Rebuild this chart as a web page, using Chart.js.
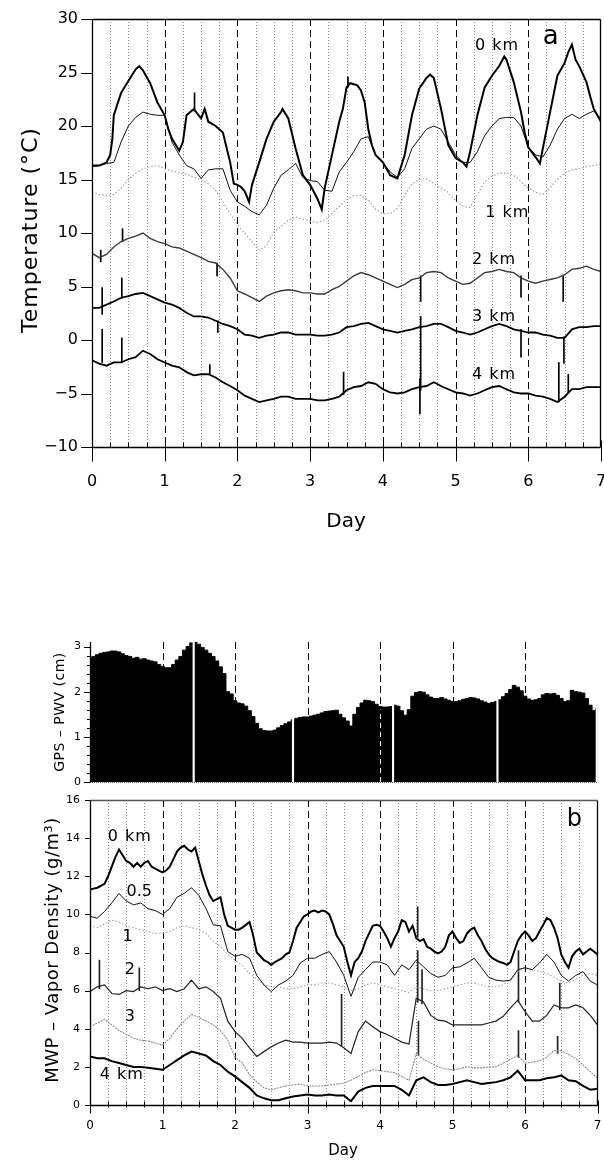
<!DOCTYPE html>
<html lang="en">
<head>
<meta charset="UTF-8">
<title>Temperature, GPS PWV and vapor density</title>
<script src="https://cdn.jsdelivr.net/npm/chart.js"></script>
<style>
  html, body { margin: 0; padding: 0; background: #fff; overflow: hidden; }
  canvas { position: absolute; left: 0; }
  #tempChart { top: 0; }
  #gpsChart { top: 620px; }
  #vapChart { top: 795px; }
</style>
</head>
<body>
<canvas id="tempChart" width="604" height="540"></canvas>
<canvas id="gpsChart" width="604" height="175"></canvas>
<canvas id="vapChart" width="604" height="365"></canvas>

<script>
// day grids (0.1 and 0.05 day sampling)
var days10 = [];
for (var i = 0; i <= 70; i++) days10.push(i / 10);
var days20 = [];
for (var j = 0; j <= 140; j++) days20.push(j / 20);

// tick labels
var dayTicks = [0, 1, 2, 3, 4, 5, 6, 7];
var tempTicks = [-10, -5, 0, 5, 10, 15, 20, 25, 30];
var gpsTicks = [0, 1, 2, 3];
var vapTicks = [0, 2, 4, 6, 8, 10, 12, 14, 16];

// ---- panel a: temperature (deg C) ----
var temp0km = [[0,16.3],[0.1,16.3],[0.2,16.6],[0.25,17.3],[0.28,18.8],[0.3,21.0],[0.4,23.1],[0.5,24.2],[0.6,25.3],[0.65,25.6],
  [0.7,25.2],[0.8,24.0],[0.9,22.2],[1.0,21.0],[1.05,19.7],[1.1,18.8],[1.2,17.7],[1.25,18.5],[1.3,21.0],[1.4,21.6],
  [1.5,20.7],[1.55,21.6],[1.6,20.4],[1.7,20.0],[1.8,19.4],[1.9,16.6],[1.95,14.6],[2.0,14.5],[2.05,14.3],[2.1,13.9],
  [2.16,12.9],[2.2,14.5],[2.3,16.6],[2.4,18.8],[2.5,20.4],[2.6,21.3],[2.62,21.6],[2.7,20.7],[2.8,17.9],[2.9,15.4],
  [3.0,14.5],[3.1,13.2],[3.16,12.2],[3.2,14.2],[3.3,17.3],[3.4,20.4],[3.45,21.6],[3.5,23.6],[3.55,24.0],[3.6,23.9],
  [3.65,23.8],[3.7,23.3],[3.75,22.2],[3.8,19.7],[3.85,18.2],[3.9,17.3],[4.0,16.6],[4.1,15.4],[4.2,15.1],[4.3,17.3],
  [4.4,21.0],[4.5,23.5],[4.6,24.5],[4.65,24.8],[4.7,24.5],[4.8,21.6],[4.9,18.2],[5.0,17.0],[5.1,16.6],[5.15,16.2],
  [5.2,17.6],[5.3,21.0],[5.4,23.6],[5.5,24.7],[5.6,25.6],[5.67,26.5],[5.7,26.2],[5.8,24.1],[5.9,21.3],[5.95,19.4],
  [6.0,18.0],[6.1,17.1],[6.16,16.5],[6.2,17.9],[6.3,21.3],[6.4,24.7],[6.5,25.9],[6.55,26.9],[6.6,27.6],[6.65,26.2],
  [6.7,25.6],[6.8,24.1],[6.85,22.8],[6.9,21.6],[6.95,21.0],[7.0,20.4]];
var tempThin = [16.2,16.3,16.5,16.6,18.5,20.0,20.8,21.3,21.1,21.0,
  21.0,18.5,17.3,16.3,16.0,15.1,15.9,16.0,16.0,14.0,
  12.9,12.5,12.0,11.7,12.6,14.2,15.4,15.9,16.5,15.2,
  14.9,14.8,14.0,13.9,15.7,16.6,17.6,18.8,19.0,17.3,
  16.6,15.7,15.2,16.0,17.9,18.8,19.7,20.0,19.7,18.5,
  17.3,16.6,16.6,17.6,19.1,20.0,20.7,20.8,20.8,20.0,
  18.0,17.3,17.1,18.2,19.7,20.7,21.1,20.7,21.1,21.4,
  20.7];
var temp1km = [13.8,13.6,13.5,13.6,14.2,15.0,15.6,16.0,16.2,16.3,
  16.0,15.8,15.6,15.5,15.2,15.0,14.6,14.0,12.9,11.8,
  10.8,10.0,9.2,8.4,8.8,10.1,10.6,11.2,11.5,11.3,
  11.1,11.0,11.2,11.8,12.5,13.1,13.5,13.5,13.1,12.2,
  11.8,11.8,12.3,13.5,14.6,15.0,15.1,14.6,14.2,13.8,
  13.0,12.5,12.4,13.6,14.8,15.3,15.6,15.6,15.4,14.8,
  14.2,13.8,13.6,14.2,15.0,15.6,15.9,16.0,16.2,16.3,
  16.4];
var temp2km = [8.1,7.7,8.0,8.7,9.2,9.5,9.7,10.0,9.5,9.2,
  9.0,8.7,8.6,8.3,8.0,7.7,7.35,7.2,6.6,5.8,
  4.6,4.3,3.95,3.6,4.1,4.4,4.6,4.7,4.6,4.4,
  4.4,4.3,4.3,4.7,5.0,5.5,6.0,6.3,6.1,5.8,
  5.5,5.2,4.9,5.2,5.65,5.8,6.3,6.4,6.3,5.8,
  5.5,5.2,5.3,5.8,6.3,6.4,6.6,6.4,6.3,5.8,
  5.5,5.3,5.5,5.65,5.8,6.1,6.6,6.7,6.9,6.6,
  6.4];
var temp3km = [3.0,3.0,3.3,3.6,3.95,4.1,4.3,4.4,4.1,3.8,
  3.5,3.3,3.0,2.55,2.2,2.2,2.1,1.8,1.5,1.3,
  1.0,0.5,0.4,0.2,0.4,0.5,0.7,0.7,0.5,0.5,
  0.5,0.4,0.4,0.5,0.7,1.2,1.3,1.5,1.6,1.3,
  1.0,0.85,0.7,0.85,1.0,1.2,1.3,1.5,1.5,1.2,
  0.85,0.7,0.5,0.7,1.0,1.3,1.5,1.3,1.0,0.85,
  0.7,0.7,0.5,0.4,0.2,0.2,1.0,1.2,1.2,1.3,
  1.3];
var temp4km = [-1.9,-2.2,-2.4,-2.1,-2.1,-1.8,-1.6,-1.0,-1.3,-1.8,
  -2.1,-2.4,-2.55,-3.0,-3.3,-3.2,-3.2,-3.5,-3.95,-4.3,
  -4.7,-5.2,-5.5,-5.8,-5.65,-5.5,-5.3,-5.3,-5.5,-5.5,
  -5.5,-5.65,-5.65,-5.5,-5.3,-4.7,-4.4,-4.3,-3.95,-4.1,
  -4.6,-4.9,-5.0,-4.9,-4.6,-4.4,-4.3,-3.95,-4.3,-4.6,
  -4.9,-5.0,-5.2,-5.0,-4.7,-4.4,-4.3,-4.6,-4.9,-5.0,
  -5.0,-5.2,-5.3,-5.5,-5.8,-5.3,-4.6,-4.6,-4.4,-4.4,
  -4.4];
// short spikes: [day, from, to]
var temp0kmSpikes = [[1.41, 21.4, 23.1], [3.52, 23.6, 24.6]];
var temp2kmSpikes = [[0.12, 7.3, 8.4], [0.42, 9.2, 10.4], [1.72, 6.0, 7.2], [4.52, 3.6, 6.0], [5.9, 4.0, 6.0], [6.48, 3.6, 6.0]];
var temp3kmSpikes = [[0.14, 2.4, 4.9], [0.41, 3.9, 5.8], [1.73, 0.7, 1.8], [4.52, -4.7, 2.2], [5.9, -1.6, 1.0], [6.49, -2.2, 0.3]];
var temp4kmSpikes = [[0.14, -2.1, 1.0], [0.41, -2.1, 0.2], [1.62, -3.2, -2.3], [3.46, -5.1, -3.0], [4.51, -6.9, -3.6], [6.42, -5.8, -2.1], [6.55, -4.9, -3.2]];

// ---- middle panel: GPS precipitable water vapour (cm), 0.05 day ----
var gpsPwv = [2.75,2.78,2.82,2.85,2.87,2.88,2.90,2.90,2.88,2.84,
  2.80,2.78,2.74,2.76,2.72,2.73,2.70,2.68,2.66,2.60,
  2.56,2.53,2.53,2.60,2.70,2.78,2.92,3.00,3.08,3.12,
  3.05,2.98,2.92,2.85,2.78,2.68,2.55,2.40,2.00,1.95,
  1.80,1.75,1.73,1.68,1.58,1.45,1.30,1.18,1.14,1.13,
  1.13,1.15,1.20,1.25,1.29,1.33,1.38,1.41,1.43,1.44,
  1.44,1.46,1.48,1.50,1.53,1.56,1.57,1.58,1.59,1.50,
  1.42,1.35,1.24,1.50,1.65,1.75,1.81,1.80,1.78,1.72,
  1.67,1.66,1.66,1.67,1.70,1.68,1.58,1.48,1.60,1.90,
  1.98,2.00,1.99,1.93,1.88,1.85,1.85,1.87,1.84,1.81,
  1.78,1.78,1.80,1.83,1.85,1.87,1.86,1.84,1.80,1.77,
  1.74,1.76,1.78,1.82,1.89,1.96,2.05,2.14,2.10,2.02,
  1.90,1.84,1.81,1.82,1.85,1.93,1.96,1.95,1.96,1.92,
  1.85,1.78,1.80,2.03,2.00,1.99,1.97,1.85,1.70,1.58,
  1.62];
var gpsGapDays = [1.43, 2.8, 4.18, 5.62, 6.99];
var gpsBrokenDay = 4;   // intermittent record, shown as a white dashed gap

// ---- panel b: MWP vapor density (g/m3) ----
var vap0km = [11.3,11.35,11.4,11.5,11.6,12.0,12.5,13.0,13.4,13.1,
  12.8,12.7,12.5,12.7,12.5,12.7,12.8,12.5,12.4,12.3,
  12.2,12.3,12.5,12.9,13.3,13.5,13.6,13.4,13.3,13.5,
  12.8,12.1,11.5,11.0,10.7,10.8,10.9,10.0,9.4,9.3,
  9.2,9.2,9.3,9.45,9.6,8.9,8.0,7.8,7.6,7.5,
  7.35,7.5,7.6,7.7,7.9,8.0,8.6,9.3,9.6,9.9,
  10.0,10.15,10.2,10.1,10.2,10.15,10.0,9.5,8.9,8.6,
  8.3,7.5,6.8,7.5,7.7,8.05,8.6,9.0,9.4,9.45,
  9.4,9.1,8.75,8.3,8.75,9.1,9.7,9.6,9.1,9.4,
  8.75,8.6,8.7,8.3,8.2,8.05,7.95,8.05,8.3,8.9,
  9.1,8.75,8.5,8.6,9.0,9.2,9.3,8.9,8.6,8.2,
  7.9,7.7,7.6,7.5,7.45,7.35,7.5,8.05,8.6,8.9,
  9.1,8.9,8.6,8.75,9.1,9.45,9.8,9.7,9.3,8.75,
  7.9,7.5,7.2,7.8,8.05,8.2,7.9,8.05,8.2,8.05,
  7.9];
var vap05km = [9.9,9.8,10.15,10.6,11.1,10.7,10.5,10.6,10.3,10.2,
  10.0,10.3,10.9,11.1,11.4,11.0,10.3,9.45,9.4,8.05,
  7.8,7.9,7.7,6.8,6.3,5.95,6.3,6.5,6.8,7.45,
  7.7,7.7,7.9,8.05,7.5,6.8,5.7,6.7,7.1,7.5,
  7.5,7.35,6.8,7.35,7.1,7.6,7.25,6.9,6.7,6.8,
  7.2,7.25,7.45,7.7,7.2,6.7,6.55,6.5,6.55,7.1,
  7.2,7.1,7.45,7.9,7.5,6.8,6.5,6.8,7.0,6.5,
  6.3];
var vap1km = [9.4,9.3,9.5,9.7,9.6,9.4,9.3,9.2,9.1,9.0,
  9.0,9.1,9.3,9.4,9.3,9.2,9.0,8.6,8.3,7.9,
  7.6,7.3,6.9,6.6,6.3,6.2,6.2,6.1,6.1,6.2,
  6.3,6.3,6.4,6.4,6.3,6.2,6.0,6.1,6.3,6.4,
  6.3,6.2,6.1,6.0,5.9,6.2,6.1,6.0,6.0,6.1,
  6.2,6.3,6.4,6.4,6.3,6.2,6.2,6.3,6.6,7.0,
  7.2,7.1,7.0,6.9,6.7,6.5,6.4,6.6,6.8,6.9,
  6.8];
var vap2km = [5.95,6.2,6.3,5.85,5.8,6.0,5.95,6.2,6.1,6.2,
  6.0,6.1,5.95,6.1,6.55,6.1,6.2,5.95,5.6,4.4,
  3.85,3.5,3.0,2.55,2.8,3.05,3.25,3.4,3.3,3.3,
  3.25,3.25,3.25,3.3,3.25,3.0,2.7,3.85,4.4,4.1,
  3.85,3.7,3.5,3.3,3.2,5.6,5.4,4.7,4.45,4.4,
  4.2,4.2,4.2,4.2,4.2,4.3,4.4,4.65,5.1,5.5,
  4.9,4.4,4.4,4.7,5.25,5.1,5.1,5.25,5.1,4.7,
  4.2];
var vap3km = [4.1,4.3,4.5,4.2,3.9,3.7,3.5,3.4,3.35,3.25,
  3.15,3.5,4.0,4.4,4.75,4.6,4.4,4.2,3.9,3.4,
  2.5,2.2,1.6,1.2,0.9,0.8,0.9,1.0,1.05,1.1,
  1.0,1.0,1.0,1.05,1.1,1.15,1.3,1.5,1.7,1.85,
  1.8,1.75,1.7,1.5,1.3,2.7,2.4,2.2,2.0,1.9,
  1.85,1.9,2.0,1.95,1.95,2.0,2.0,2.2,2.4,2.6,
  2.2,2.25,2.3,2.5,2.85,2.85,2.65,2.45,2.1,1.75,
  1.4];
var vap4km = [2.55,2.45,2.45,2.3,2.2,2.1,2.0,2.0,1.95,1.9,
  1.85,2.1,2.35,2.6,2.8,2.7,2.6,2.3,2.1,1.75,
  1.5,1.2,0.9,0.5,0.35,0.25,0.25,0.35,0.45,0.5,
  0.55,0.5,0.5,0.55,0.5,0.5,0.2,0.7,0.9,1.0,
  1.0,1.0,1.0,0.8,0.5,1.3,1.45,1.2,1.05,1.05,
  1.1,1.2,1.3,1.2,1.1,1.15,1.2,1.3,1.45,1.8,
  1.3,1.3,1.3,1.4,1.45,1.55,1.3,1.25,1.0,0.8,
  0.85];
var vap0kmSpikes = [[4.52, 8.8, 10.4]];
var vap2kmSpikes = [[0.13, 6.1, 7.6], [0.68, 6.0, 7.2], [3.47, 3.1, 5.8], [4.52, 5.4, 8.1], [4.58, 5.3, 7.1], [5.91, 5.4, 8.1], [6.48, 5.0, 6.4]];
var vap3kmSpikes = [[4.53, 2.6, 4.4], [5.91, 2.5, 3.9], [6.45, 2.7, 3.6]];

Chart.defaults.font.family = "'DejaVu Sans', sans-serif";
Chart.defaults.color = '#000';

function onGrid(days, vals) {
  return vals.map(function (v, i) { return { x: days[i], y: v }; });
}
function fromPairs(pairs) {
  return pairs.map(function (p) { return { x: p[0], y: p[1] }; });
}
function spikeBars(list) {
  return list.map(function (s) { return { x: s[0], y: [s[1], s[2]] }; });
}
function minusSign(v) {
  return String(v).replace('-', '\u2212');
}
function seg(ctx, x1, y1, x2, y2) {
  ctx.beginPath(); ctx.moveTo(x1, y1); ctx.lineTo(x2, y2); ctx.stroke();
}

// draws the old-style grid, frame, ticks, tick labels and in-plot text
function oldAxes(cfg) {
  return {
    id: 'oldAxes',
    beforeDatasetsDraw: function (chart) {
      var ctx = chart.ctx, a = chart.chartArea, xs = chart.scales.x;
      ctx.save();
      ctx.lineWidth = 1;
      if (cfg.quarterLines) {
        ctx.strokeStyle = '#8a8a8a';
        ctx.setLineDash([1, 2]);
        for (var k = 1; k < 28; k++) {
          if (k % 4 === 0) continue;
          var px = Math.round(xs.getPixelForValue(k / 4)) + 0.5;
          seg(ctx, px, a.top, px, a.bottom);
        }
      }
      ctx.strokeStyle = '#000';
      ctx.setLineDash([7, 4]);
      for (var d = 1; d < 7; d++) {
        var p = Math.round(xs.getPixelForValue(d)) + 0.5;
        seg(ctx, p, a.top, p, a.bottom);
      }
      if (cfg.baseDotted) {
        ctx.strokeStyle = '#555';
        ctx.setLineDash([1, 1]);
        seg(ctx, a.left, a.bottom + 0.5, a.right, a.bottom + 0.5);
      }
      ctx.restore();
    },
    afterDatasetsDraw: function (chart) {
      var ctx = chart.ctx, a = chart.chartArea, xs = chart.scales.x, ys = chart.scales.y;
      ctx.save();
      if (cfg.whiteDash) {
        var w = cfg.whiteDash;
        var wx = Math.round(xs.getPixelForValue(w.day)) + 0.5;
        ctx.strokeStyle = '#fff';
        ctx.lineWidth = 1;
        ctx.setLineDash([5, 4]);
        seg(ctx, wx, ys.getPixelForValue(0), wx, ys.getPixelForValue(w.top) + 3);
      }
      ctx.setLineDash([]);
      ctx.strokeStyle = '#000';
      ctx.lineWidth = 1.3;
      var L = Math.round(a.left) + 0.5, R = Math.round(a.right) - 0.5;
      var T = Math.round(a.top) + 0.5, B = Math.round(a.bottom) + 0.5;
      seg(ctx, L, a.top, L, B);
      if (cfg.frame) {
        seg(ctx, L, B, R, B);
        seg(ctx, R, T, R, B);
        ctx.strokeStyle = cfg.topColor || '#000';
        seg(ctx, L, T, R, T);
        ctx.strokeStyle = '#000';
      }
      ctx.lineWidth = 1;
      // y ticks
      var yt = cfg.yTicks;
      yt.values.forEach(function (v) {
        var py = Math.round(ys.getPixelForValue(v)) + 0.5;
        seg(ctx, a.left - yt.len, py, a.left, py);
      });
      if (yt.minor) {
        for (var m = 0; m * yt.minor <= yt.values[yt.values.length - 1] + 1e-9; m++) {
          var pm = Math.round(ys.getPixelForValue(m * yt.minor)) + 0.5;
          seg(ctx, a.left - yt.minorLen, pm, a.left, pm);
        }
      }
      // x ticks
      if (cfg.xTicks) {
        var xt = cfg.xTicks;
        for (var q = 0; q <= 28; q++) {
          var px = Math.round(xs.getPixelForValue(q / 4)) + 0.5;
          if (q % 4 === 0) seg(ctx, px, B - xt.up, px, B + xt.down);
          else seg(ctx, px, B - xt.minorUp, px, B + xt.minorDown);
        }
      }
      ctx.fillStyle = '#000';
      ctx.textBaseline = 'middle';
      // tick labels
      ctx.font = yt.font;
      ctx.textAlign = 'right';
      yt.values.forEach(function (v) {
        ctx.fillText(minusSign(v), a.left - yt.gap, ys.getPixelForValue(v));
      });
      if (cfg.xTicks) {
        ctx.font = cfg.xTicks.font;
        ctx.textAlign = 'center';
        cfg.xTicks.values.forEach(function (d) {
          ctx.fillText(String(d), xs.getPixelForValue(d), a.bottom + cfg.xTicks.labelOffset);
        });
      }
      // in-plot labels
      ctx.textAlign = 'center';
      (cfg.notes || []).forEach(function (n) {
        ctx.font = n.font;
        ctx.letterSpacing = n.spacing || '0px';
        ctx.fillText(n.text, xs.getPixelForValue(n.day), ys.getPixelForValue(n.val));
      });
      // axis titles
      (cfg.titles || []).forEach(function (t) {
        ctx.save();
        ctx.font = t.font;
        ctx.letterSpacing = t.spacing || '0px';
        ctx.translate(t.x, t.y);
        if (t.rotate) ctx.rotate(-Math.PI / 2);
        ctx.fillText(t.text, 0, 0);
        ctx.restore();
      });
      ctx.restore();
    }
  };
}

var noGrid = { display: false, drawTicks: false };
var noBorder = { display: false };
var noTicks = { display: false };

function baseOptions(pad, xHeight, yWidth, yMin, yMax) {
  return {
    responsive: false,
    animation: false,
    layout: { padding: pad },
    elements: { point: { radius: 0 }, line: { tension: 0 } },
    plugins: { legend: { display: false }, tooltip: { enabled: false } },
    scales: {
      x: {
        type: 'linear', min: 0, max: 7, offset: false,
        grid: noGrid, border: noBorder, ticks: noTicks,
        afterFit: function (s) { s.height = xHeight; }
      },
      y: {
        type: 'linear', min: yMin, max: yMax,
        grid: noGrid, border: noBorder, ticks: noTicks,
        afterFit: function (s) { s.width = yWidth; }
      }
    }
  };
}

// ---------- panel a ----------
new Chart(document.getElementById('tempChart'), {
  type: 'line',
  data: {
    datasets: [
      { label: '0 km', data: fromPairs(temp0km), borderColor: '#000', borderWidth: 2 },
      { label: '0 km (radiometer)', data: onGrid(days10, tempThin), borderColor: '#111', borderWidth: 1 },
      { label: '1 km', data: onGrid(days10, temp1km), borderColor: '#9a9a9a', borderWidth: 1.1, borderDash: [1.5, 2] },
      { label: '2 km', data: onGrid(days10, temp2km), borderColor: '#3a3a3a', borderWidth: 1.4 },
      { label: '3 km', data: onGrid(days10, temp3km), borderColor: '#000', borderWidth: 1.8 },
      { label: '4 km', data: onGrid(days10, temp4km), borderColor: '#000', borderWidth: 1.8 },
      { type: 'bar', label: 'spikes', grouped: false, barThickness: 1, backgroundColor: '#000',
        data: spikeBars(temp0kmSpikes.concat(temp2kmSpikes, temp3kmSpikes, temp4kmSpikes)) }
    ]
  },
  options: baseOptions({ top: 19, right: 3, left: 0, bottom: 0 }, 93, 92, -10, 30),
  plugins: [oldAxes({
    quarterLines: true, frame: true,
    yTicks: { values: tempTicks, len: 11, gap: 14, font: '16px "DejaVu Sans"' },
    xTicks: { values: dayTicks, up: 7, down: 14, minorUp: 5, minorDown: 0, labelOffset: 35, font: '16px "DejaVu Sans"' },
    notes: [
      { text: '0 km', day: 5.57, val: 27.5, font: '16px "DejaVu Sans"', spacing: '1px' },
      { text: 'a', day: 6.31, val: 28.3, font: '26px "DejaVu Sans"' },
      { text: '1 km', day: 5.71, val: 11.9, font: '16px "DejaVu Sans"', spacing: '1px' },
      { text: '2 km', day: 5.53, val: 7.5, font: '16px "DejaVu Sans"', spacing: '1px' },
      { text: '3 km', day: 5.53, val: 2.15, font: '16px "DejaVu Sans"', spacing: '1px' },
      { text: '4 km', day: 5.53, val: -3.3, font: '16px "DejaVu Sans"', spacing: '1px' }
    ],
    titles: [
      { text: 'Temperature (°C)', x: 31, y: 230, rotate: true, font: '22px "DejaVu Sans"', spacing: '1px' },
      { text: 'Day', x: 346, y: 522, font: '20px "DejaVu Sans"' }
    ]
  })]
});

// ---------- GPS PWV ----------
new Chart(document.getElementById('gpsChart'), {
  type: 'line',
  data: {
    datasets: [
      { type: 'bar', label: 'gaps', order: 0, grouped: false, barThickness: 1.5, backgroundColor: '#fff',
        data: gpsGapDays.map(function (g) { return { x: g, y: [0, 3.1] }; }) },
      { label: 'GPS PWV', order: 1, data: onGrid(days20, gpsPwv), borderColor: '#000', borderWidth: 1,
        backgroundColor: '#000', fill: 'origin', stepped: 'middle' }
    ]
  },
  options: baseOptions({ top: 22, right: 6.5, left: 0, bottom: 0 }, 13, 90, 0, 3.1),
  plugins: [oldAxes({
    quarterLines: false, frame: false, baseDotted: true,
    whiteDash: { day: gpsBrokenDay, top: gpsPwv[days20.indexOf(gpsBrokenDay)] },
    yTicks: { values: gpsTicks, len: 6, minor: 0.2, minorLen: 3, gap: 9, font: '11px "DejaVu Sans"' },
    titles: [
      { text: 'GPS \u2013 PWV (cm)', x: 60, y: 92, rotate: true, font: '14px "DejaVu Sans"', spacing: '0.5px' }
    ]
  })]
});

// ---------- panel b ----------
new Chart(document.getElementById('vapChart'), {
  type: 'line',
  data: {
    datasets: [
      { label: '0 km', data: onGrid(days20, vap0km), borderColor: '#000', borderWidth: 2 },
      { label: '0.5 km', data: onGrid(days10, vap05km), borderColor: '#111', borderWidth: 1 },
      { label: '1 km', data: onGrid(days10, vap1km), borderColor: '#a0a0a0', borderWidth: 1.1, borderDash: [1.5, 2] },
      { label: '2 km', data: onGrid(days10, vap2km), borderColor: '#222', borderWidth: 1.2 },
      { label: '3 km', data: onGrid(days10, vap3km), borderColor: '#8a8a8a', borderWidth: 1.1, borderDash: [2, 1] },
      { label: '4 km', data: onGrid(days10, vap4km), borderColor: '#000', borderWidth: 2 },
      { type: 'bar', label: 'spikes', grouped: false, barThickness: 1, backgroundColor: '#222',
        data: spikeBars(vap0kmSpikes.concat(vap2kmSpikes, vap3kmSpikes)) }
    ]
  },
  options: baseOptions({ top: 5, right: 6.5, left: 0, bottom: 0 }, 55, 90, 0, 16),
  plugins: [oldAxes({
    quarterLines: true, frame: true, topColor: '#555',
    yTicks: { values: vapTicks, len: 5, gap: 10, font: '11px "DejaVu Sans"' },
    xTicks: { values: dayTicks, up: 5, down: 8, minorUp: 4, minorDown: 2, labelOffset: 21, font: '12px "DejaVu Sans"' },
    notes: [
      { text: '0 km', day: 0.55, val: 14.07, font: '16px "DejaVu Sans"', spacing: '1px' },
      { text: '0.5', day: 0.68, val: 11.18, font: '16px "DejaVu Sans"' },
      { text: '1', day: 0.52, val: 8.82, font: '16px "DejaVu Sans"' },
      { text: '2', day: 0.55, val: 7.09, font: '16px "DejaVu Sans"' },
      { text: '3', day: 0.55, val: 4.62, font: '16px "DejaVu Sans"' },
      { text: '4 km', day: 0.44, val: 1.57, font: '16px "DejaVu Sans"', spacing: '1px' },
      { text: 'b', day: 6.68, val: 14.96, font: '24px "DejaVu Sans"' }
    ],
    titles: [
      { text: 'MWP \u2013 Vapor Density (g/m\u00b3)', x: 53, y: 155, rotate: true, font: '18px "DejaVu Sans"', spacing: '0.5px' },
      { text: 'Day', x: 343, y: 356, font: '15px "DejaVu Sans"' }
    ]
  })]
});
</script>
</body>
</html>
